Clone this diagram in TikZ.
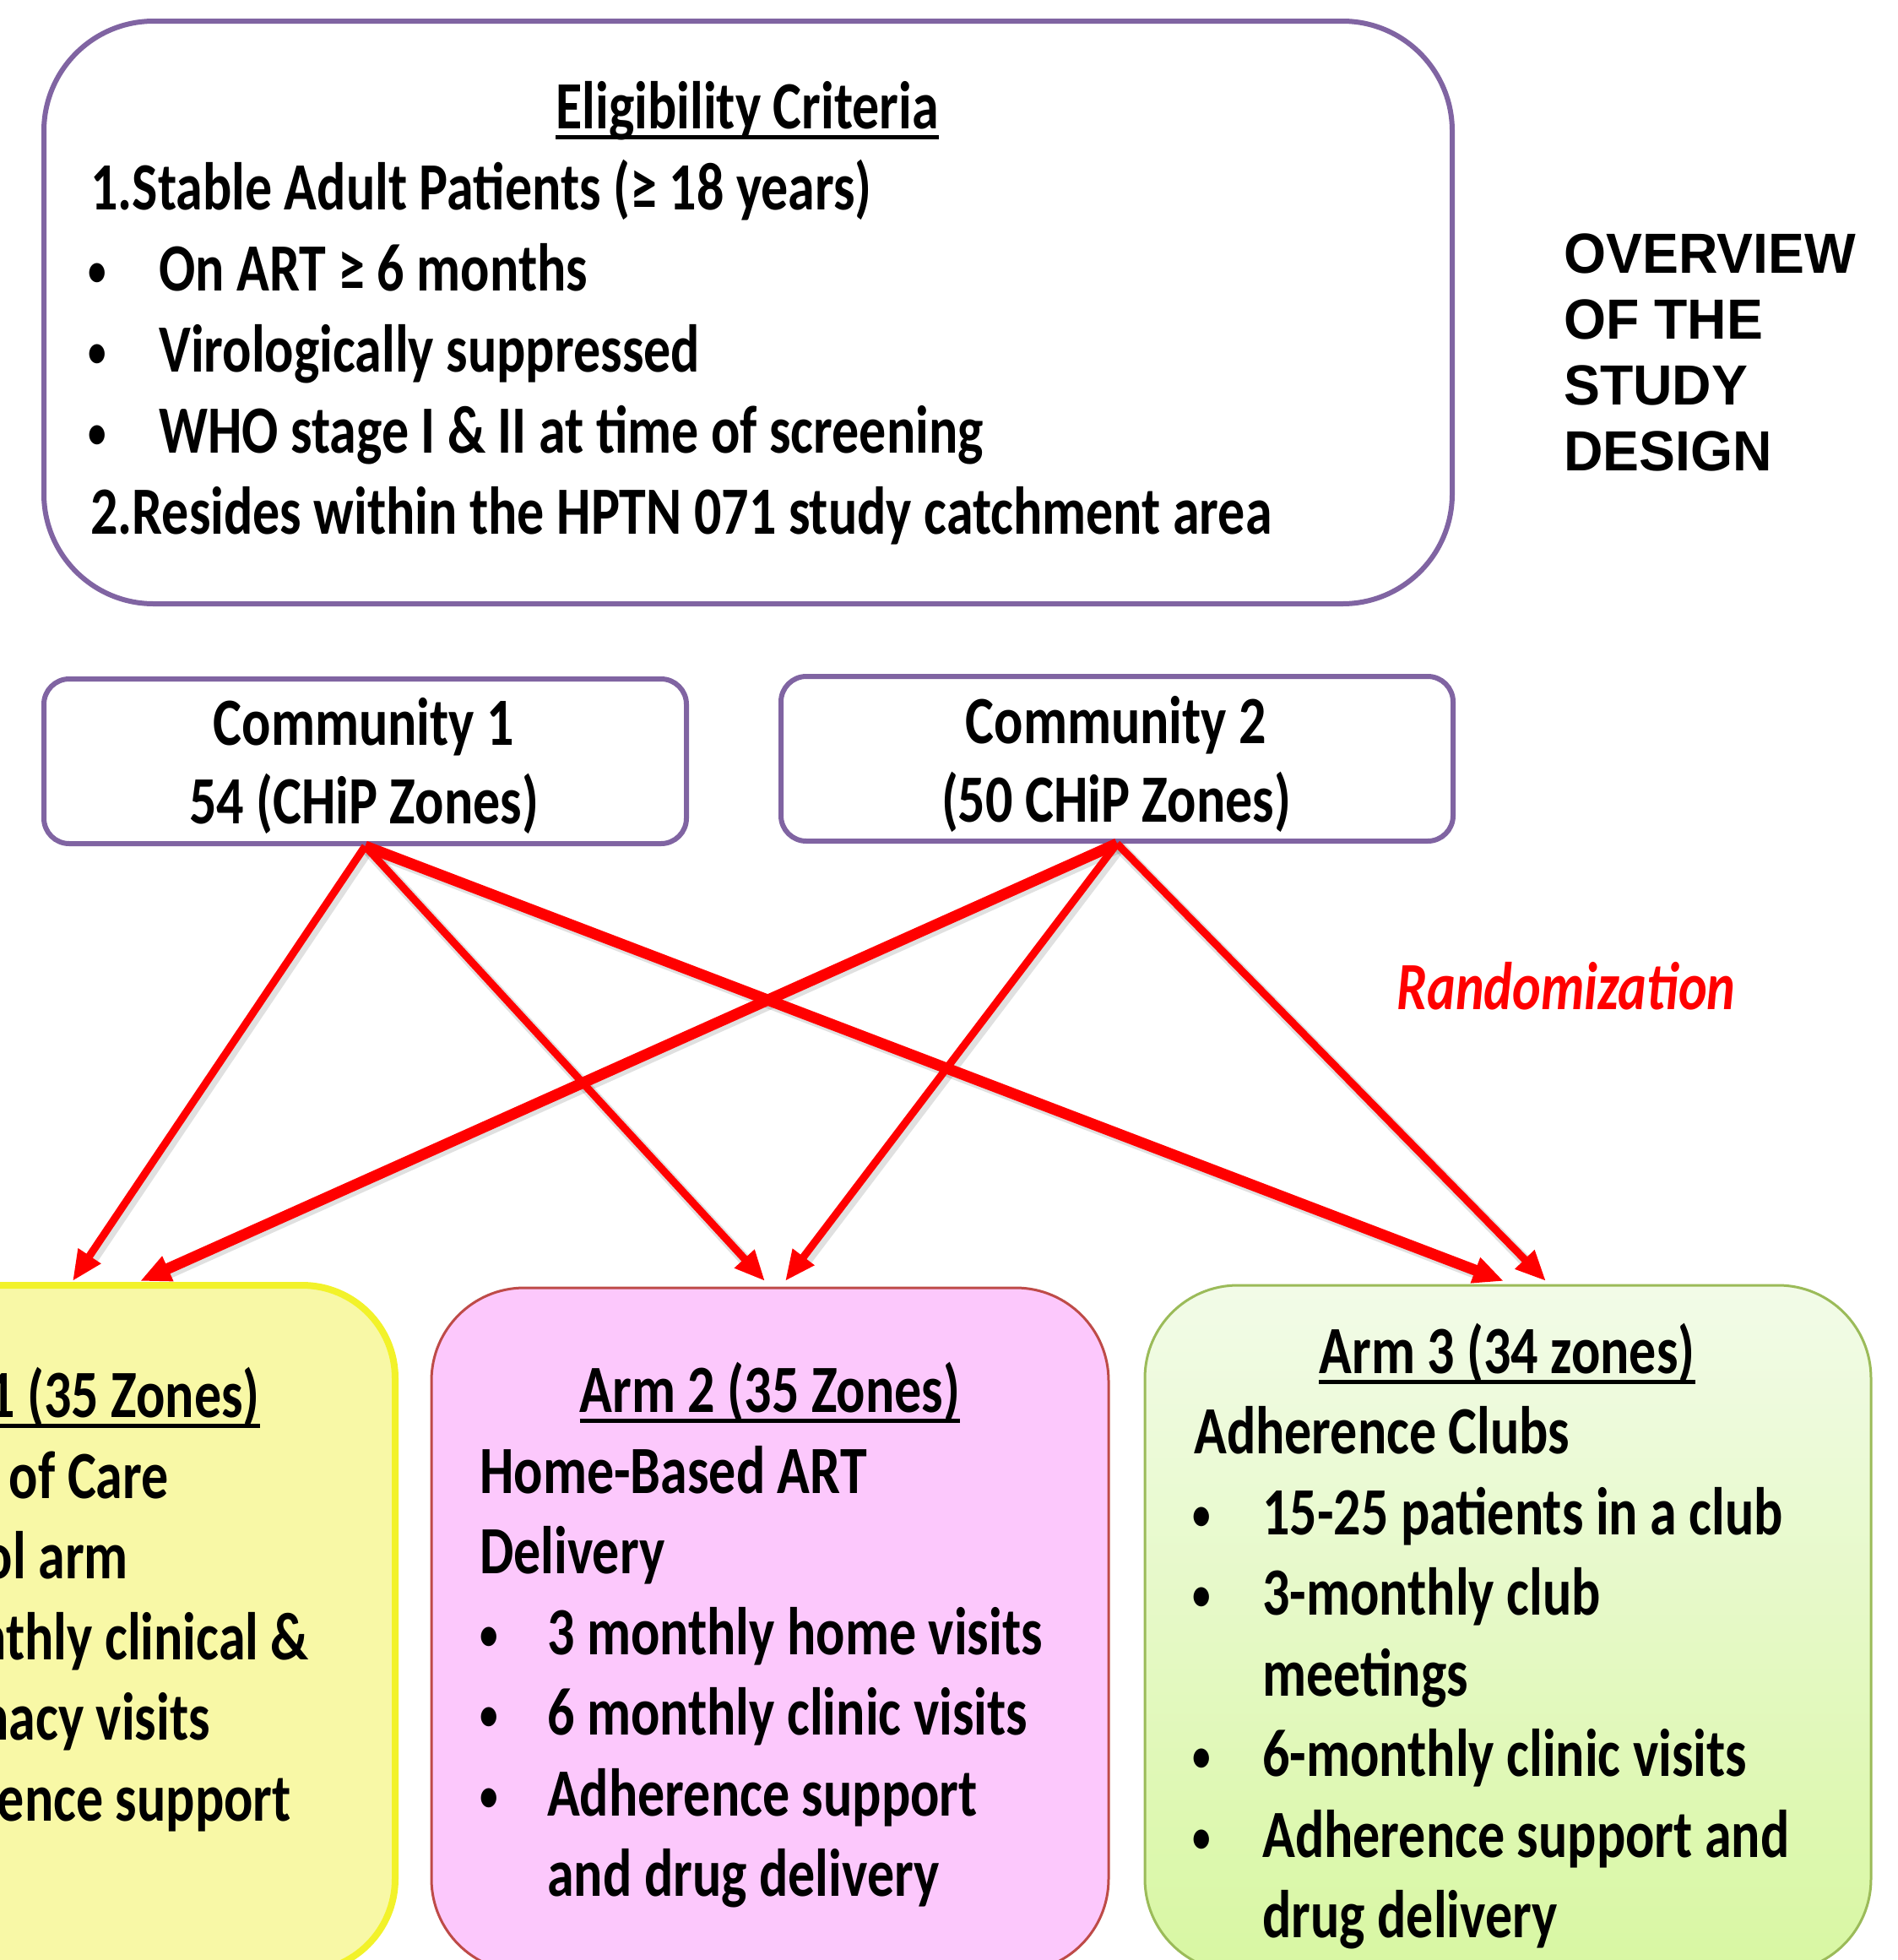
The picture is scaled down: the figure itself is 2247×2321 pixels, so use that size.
\documentclass[tikz,border=0pt]{standalone}
\usepackage{fontspec}
\setmainfont{Carlito}[FakeStretch=0.8]
\newfontfamily\ovfont{Liberation Sans}[FakeStretch=0.96]
\usetikzlibrary{arrows.meta,calc}
\definecolor{boxpurple}{HTML}{8064A2}
\definecolor{armyel}{HTML}{F8F8A6}
\definecolor{armyelb}{HTML}{F2F22A}
\definecolor{armpink}{HTML}{FCC8FC}
\definecolor{armpinkb}{HTML}{BE4B48}
\definecolor{armgreenT}{HTML}{F2FBE8}
\definecolor{armgreenB}{HTML}{D8F7A2}
\definecolor{armgreenb}{HTML}{9BBB59}
\begin{document}
\begin{tikzpicture}[x=1pt,y=-1pt,
  txt/.style={inner sep=0pt, font=\fontsize{80}{96}\selectfont\bfseries},
  bul/.style={inner sep=0pt, font=\fontsize{54}{60}\selectfont\bfseries},
  purplebox/.style={draw=boxpurple, line width=6pt, fill=white, inner sep=0pt},
  armbox/.style={inner sep=0pt, rounded corners=110pt},
  arr/.style={draw=red, line width=9pt, -{Triangle[length=36pt,width=30pt]}},
  arrthick/.style={arr, line width=13pt},
  shad/.style={draw=black, opacity=0.12, line width=14pt, shorten >=30pt},
  uline/.style={line width=5pt}]
\useasboundingbox (0,0) rectangle (2247,2321);

% eligibility box
\node[purplebox, rounded corners=130pt, minimum width=1668pt, minimum height=690pt] (elig) at (886,370) {};
\node[txt, anchor=base] (eligt) at (885,152) {Eligibility Criteria};
\draw[uline] ($(eligt.base west)+(0,10)$) -- ($(eligt.base east)+(0,10)$);
\node[txt, anchor=base west] (e1) at (107,248) {1.Stable Adult Patients (≥ 18 years)};
\node[bul, anchor=base west] (b1) at (104,338) {•};
\node[txt, anchor=base west] (e2) at (188,344) {On ART ≥ 6 months};
\node[bul, anchor=base west] (b2) at (104,434) {•};
\node[txt, anchor=base west] (e3) at (188,440) {Virologically suppressed};
\node[bul, anchor=base west] (b3) at (104,530) {•};
\node[txt, anchor=base west] (e4) at (188,536) {WHO stage I \& II at time of screening};
\node[txt, anchor=base west] (e5) at (107,632) {2.Resides within the HPTN 071 study catchment area};

% title
\node[inner sep=0pt, anchor=north west, align=left, font=\ovfont\fontsize{67}{78}\selectfont\bfseries] (title) at (1852,277) {OVERVIEW\\OF THE\\STUDY\\DESIGN};

% communities
\node[purplebox, rounded corners=30pt, minimum width=761pt, minimum height=195pt] (c1) at (432.5,901.5) {};
\node[txt, anchor=base] (c1a) at (431,882) {Community 1};
\node[txt, anchor=base] (c1b) at (431,975) {54 (CHiP Zones)};
\node[purplebox, rounded corners=30pt, minimum width=796pt, minimum height=195pt] (c2) at (1323,898.5) {};
\node[txt, anchor=base] (c2a) at (1322,880) {Community 2};
\node[txt, anchor=base] (c2b) at (1322,973) {(50 CHiP Zones)};

% randomization
\node[inner sep=0pt, anchor=base west, text=red, font=\fontsize{80}{90}\selectfont\bfseries\itshape] (rand) at (1654,1195) {Randomization};

% arms
\node[armbox, draw=armyelb, line width=8pt, fill=armyel, minimum width=802pt, minimum height=813pt] (arm1) at (67,1928.5) {};
\node[armbox, draw=armpinkb, line width=3pt, fill=armpink, minimum width=802pt, minimum height=810pt] (arm2) at (912,1930) {};
\node[armbox, draw=armgreenb, line width=3pt, top color=armgreenT, bottom color=armgreenB, minimum width=860pt, minimum height=813pt] (arm3) at (1786,1928.5) {};

% arm 1 (partly outside the picture)
\node[txt, anchor=base east] (a1t) at (308,1678) {1 (35 Zones)};
\draw[uline] (0,1688) -- ($(a1t.base east)+(0,10)$);
\node[txt, anchor=base east] (a1a) at (200,1774) {of Care};
\node[txt, anchor=base east] (a1b) at (152,1869) {ol arm};
\node[txt, anchor=base east] (a1c) at (366,1965) {nthly clinical \&};
\node[txt, anchor=base east] (a1d) at (249,2060) {nacy visits};
\node[txt, anchor=base east] (a1e) at (345,2156) {ence support};

% arm 2
\node[txt, anchor=base] (a2t) at (912,1672) {Arm 2 (35 Zones)};
\draw[uline] ($(a2t.base west)+(0,10)$) -- ($(a2t.base east)+(0,10)$);
\node[txt, anchor=base west] (a2a) at (568,1768) {Home-Based ART};
\node[txt, anchor=base west] (a2b) at (568,1863) {Delivery};
\node[bul, anchor=base west] (a2bu1) at (568,1953) {•};
\node[txt, anchor=base west] (a2c) at (648,1959) {3 monthly home visits};
\node[bul, anchor=base west] (a2bu2) at (568,2048) {•};
\node[txt, anchor=base west] (a2d) at (648,2054) {6 monthly clinic visits};
\node[bul, anchor=base west] (a2bu3) at (568,2144) {•};
\node[txt, anchor=base west] (a2e) at (648,2150) {Adherence support};
\node[txt, anchor=base west] (a2f) at (648,2245) {and drug delivery};

% arm 3
\node[txt, anchor=base] (a3t) at (1785,1626) {Arm 3 (34 zones)};
\draw[uline] ($(a3t.base west)+(0,10)$) -- ($(a3t.base east)+(0,10)$);
\node[txt, anchor=base west] (a3a) at (1414,1721) {Adherence Clubs};
\node[bul, anchor=base west] (a3bu1) at (1412,1811) {•};
\node[txt, anchor=base west] (a3b) at (1495,1817) {15-25 patients in a club};
\node[bul, anchor=base west] (a3bu2) at (1412,1906) {•};
\node[txt, anchor=base west] (a3c) at (1495,1912) {3-monthly club};
\node[txt, anchor=base west] (a3d) at (1495,2008) {meetings};
\node[bul, anchor=base west] (a3bu3) at (1412,2097) {•};
\node[txt, anchor=base west] (a3e) at (1495,2103) {6-monthly clinic visits};
\node[bul, anchor=base west] (a3bu4) at (1412,2193) {•};
\node[txt, anchor=base west] (a3f) at (1495,2199) {Adherence support and};
\node[txt, anchor=base west] (a3g) at (1495,2294) {drug delivery};

% arrow ends
\coordinate (t11) at (86,1517);
\coordinate (t21) at (166,1517);
\coordinate (t12) at (906,1517);
\coordinate (t22) at (930,1517);
\coordinate (t13) at (1781,1517);
\coordinate (t23) at (1831,1517);

% soft shadows
\begin{scope}[transform canvas={shift={(3pt,-4pt)}}]
\draw[shad] (c1.south) -- (t11);
\draw[shad] (c1.south) -- (t12);
\draw[shad] (c1.south) -- (t13);
\draw[shad] (c2.south) -- (t21);
\draw[shad] (c2.south) -- (t22);
\draw[shad] (c2.south) -- (t23);
\end{scope}

\draw[arr] (c1.south) -- (t11);
\draw[arr] (c1.south) -- (t12);
\draw[arrthick] (c1.south) -- (t13);
\draw[arrthick] (c2.south) -- (t21);
\draw[arr] (c2.south) -- (t22);
\draw[arr] (c2.south) -- (t23);
\end{tikzpicture}
\end{document}
